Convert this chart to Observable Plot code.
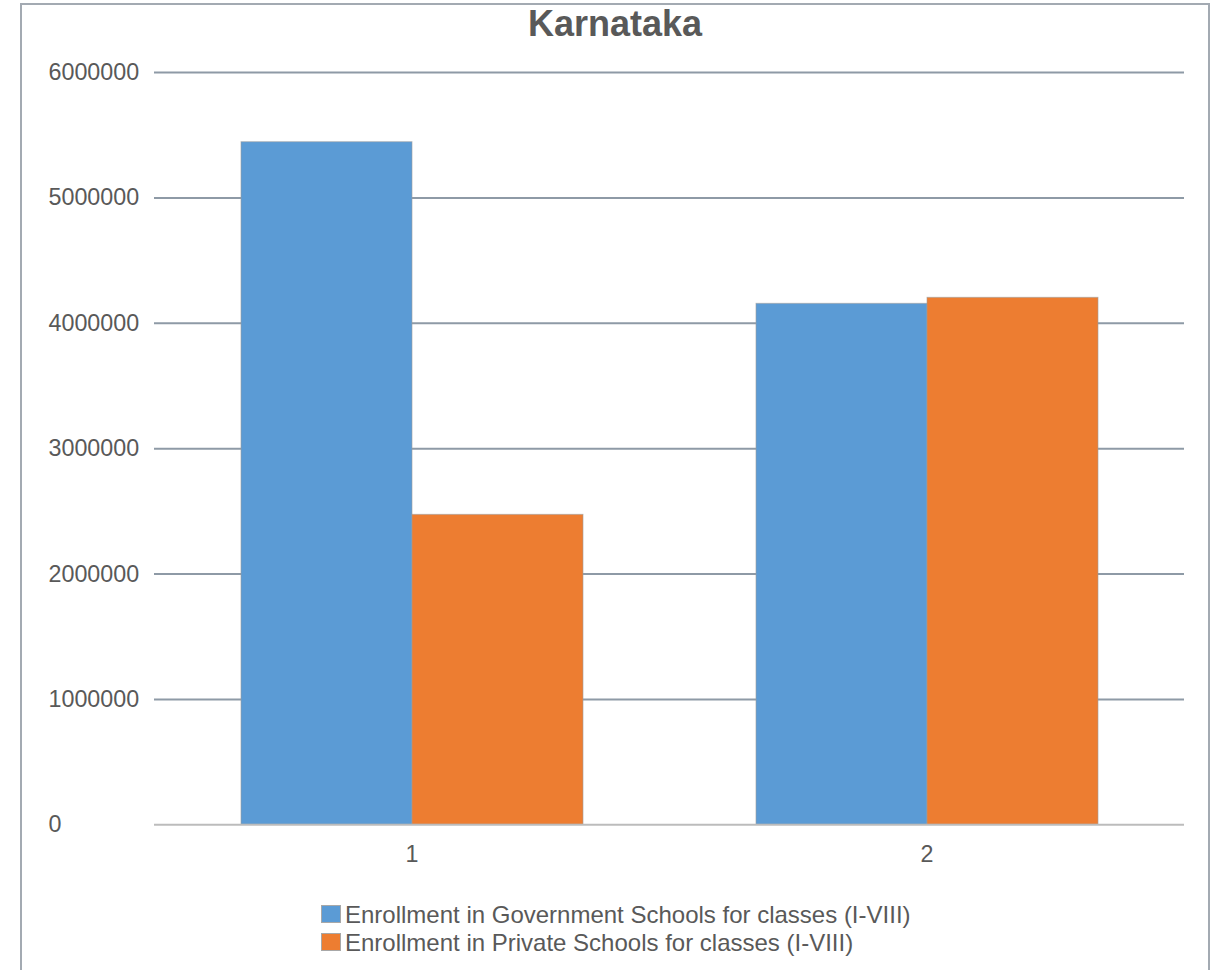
<!DOCTYPE html>
<html>
<head>
<meta charset="utf-8">
<script src="https://cdn.jsdelivr.net/npm/d3@7"></script>
<script src="https://cdn.jsdelivr.net/npm/@observablehq/plot@0.6"></script>
<style>
  html, body { margin: 0; padding: 0; background: #fff; width: 1216px; height: 970px; overflow: hidden; }
  body { position: relative; font-family: "Liberation Sans", Arial, sans-serif; }
  #frame { position: absolute; left: 20px; top: 3px; width: 1190px; height: 1100px; box-sizing: border-box; border: 2px solid #a3aab2; }
  #title { position: absolute; left: 20px; top: 6px; width: 1190px; text-align: center; font-weight: bold; font-size: 36px; line-height: 36px; color: #595959; }
  #chart { position: absolute; left: 0; top: 40px; }
  .lg { position: absolute; left: 321px; height: 28px; font-size: 24px; line-height: 28px; color: #595959; white-space: nowrap; }
  .lg .sw { position: absolute; left: 0; top: 4px; width: 20px; height: 18px; box-sizing: border-box; border: 1px solid #a8a8a8; }
  .lg .tx { position: absolute; left: 24px; top: 0; }
</style>
</head>
<body>
<div id="frame"></div>
<div id="title">Karnataka</div>
<div id="chart"></div>
<div id="legend"></div>
<script>
const groups = ["1", "2"];
const seriesNames = [
  "Enrollment in Government Schools for classes (I-VIII)",
  "Enrollment in Private Schools for classes (I-VIII)"
];
const govValues = [5444000, 4155000];
const privValues = [2472000, 4203000];
const seriesColors = ["#5b9bd5", "#ed7d31"];
const yTicks = [0, 1000000, 2000000, 3000000, 4000000, 5000000, 6000000];

const data = [];
groups.forEach((g, i) => {
  data.push({group: g, series: seriesNames[0], value: govValues[i]});
  data.push({group: g, series: seriesNames[1], value: privValues[i]});
});

const chart = Plot.plot({
  width: 1216,
  height: 850,
  marginLeft: 153,
  marginRight: 32,
  marginTop: 32,
  marginBottom: 65.7,
  style: {fontFamily: "'Liberation Sans', Arial, sans-serif", fontSize: "23.3px", color: "#595959", background: "transparent", overflow: "visible"},
  fx: {domain: groups, padding: 0, axis: "bottom", label: null, tickSize: 0, tickPadding: 20.7},
  x: {domain: seriesNames, paddingInner: 0, paddingOuter: 0.5, axis: null},
  y: {domain: [0, 6000000], axis: null},
  color: {domain: seriesNames, range: seriesColors},
  marks: [
    Plot.ruleY(yTicks.filter(d => d > 0), {stroke: "#8e9aa6", strokeWidth: 2}),
    Plot.axisY(yTicks, {tickSize: 0, tickPadding: 106, textAnchor: "start", tickFormat: d3.format("d"), label: null, fill: "#595959"}),
    Plot.barY(data, {fx: "group", x: "series", y: "value", fill: "series", inset: 0, stroke: "#9e9e9e", strokeWidth: 1, strokeOpacity: 0.6}),
    Plot.ruleY([0], {stroke: "#bcbcbc", strokeWidth: 2})
  ]
});
document.getElementById("chart").appendChild(chart);

const legend = document.getElementById("legend");
const legendTops = [901, 928.7];
seriesNames.forEach((name, i) => {
  const row = document.createElement("div");
  row.className = "lg";
  row.style.top = legendTops[i] + "px";
  const sw = document.createElement("span");
  sw.className = "sw";
  sw.style.background = seriesColors[i];
  const tx = document.createElement("span");
  tx.className = "tx";
  tx.textContent = name;
  row.appendChild(sw);
  row.appendChild(tx);
  legend.appendChild(row);
});
</script>
</body>
</html>
